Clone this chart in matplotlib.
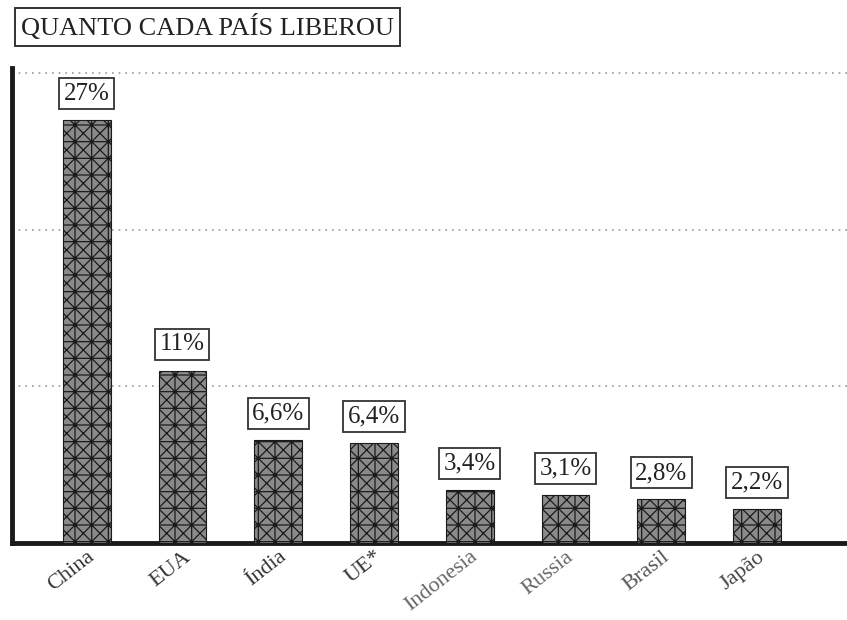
import numpy as np
import matplotlib
matplotlib.use("Agg")
from matplotlib import pyplot as plt

paises = ["China", "EUA", "Índia", "UE*", "Indonesia", "Russia", "Brasil", "Japão"]
valores = [27, 11, 6.6, 6.4, 3.4, 3.1, 2.8, 2.2]
rotulos = ["27%", "11%", "6,6%", "6,4%", "3,4%", "3,1%", "2,8%", "2,2%"]
cores_rotulo = ["#333333", "#333333", "#333333", "#333333", "#666666", "#666666", "#555555", "#444444"]
grade = [10, 20, 30]

plt.rcParams['font.family'] = ['Liberation Serif', 'DejaVu Serif']
plt.rcParams['hatch.linewidth'] = 0.9
plt.rcParams['hatch.color'] = '#1a1a1a'

fig = plt.figure(figsize=(8.47, 6.2), dpi=100)
ax = fig.add_axes([0.0142, 0.124, 0.9858, 0.766])

x = np.arange(len(paises))
bars = ax.bar(x, valores, width=0.5, color='#8a8a8a', edgecolor='#1a1a1a',
              hatch='xx+', linewidth=0.8, zorder=3)

for xi, v, r in zip(x, valores, rotulos):
    ax.annotate(r, (xi, v), xytext=(0, 11), textcoords='offset points',
                ha='center', va='bottom', fontsize=18, color='#222222',
                bbox=dict(boxstyle='square,pad=0.18', fc='white', ec='#333333', lw=1.3))

for g in grade:
    ax.axhline(g, color='#999999', linestyle=(0, (1, 3)), linewidth=1.2, zorder=1)

ax.set_xlim(-0.78, 7.94)
ax.set_ylim(0, 30.3)
ax.set_yticks([])
ax.set_xticks(x)
ax.set_xticklabels(paises, rotation=38, ha='right', rotation_mode='anchor', fontsize=16)
for lbl, c in zip(ax.get_xticklabels(), cores_rotulo):
    lbl.set_color(c)
ax.tick_params(axis='x', length=0, pad=3)

ax.spines['top'].set_visible(False)
ax.spines['right'].set_visible(False)
ax.spines['left'].set_linewidth(3.5)
ax.spines['bottom'].set_linewidth(3.5)
ax.spines['left'].set_color('#1a1a1a')
ax.spines['bottom'].set_color('#1a1a1a')

fig.text(0.0245, 0.956, "QUANTO CADA PAÍS LIBEROU", fontsize=19, color='#222222',
         ha='left', va='center',
         bbox=dict(boxstyle='square,pad=0.22', fc='white', ec='#333333', lw=1.4))

fig.savefig("out.png", dpi=100)
